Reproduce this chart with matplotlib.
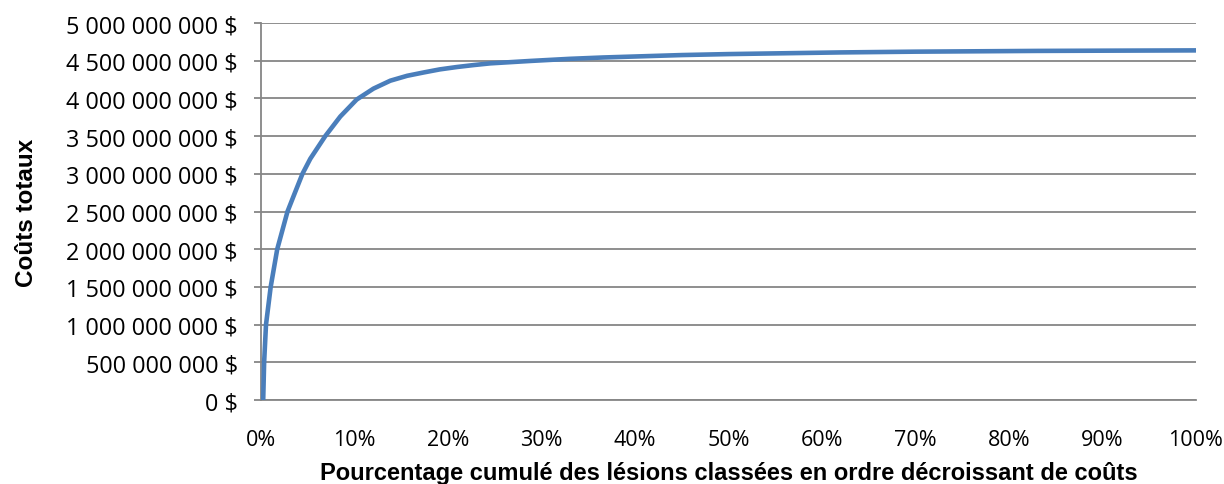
import matplotlib
matplotlib.use("Agg")
from matplotlib import pyplot as plt
from matplotlib.ticker import FuncFormatter, MultipleLocator

# cumulative share of injuries (%) and cumulative total cost ($)
pct_injuries = [0.2, 0.3, 0.5, 1.0, 1.7, 2.8, 3.5, 4.4, 5.24, 6.84, 8.45, 10.2,
                12.0, 13.8, 15.6, 17.4, 19.1, 20.9, 22.7, 24.5, 28.8, 33,
                36.6, 45, 50, 62, 70, 83, 90, 100]
total_costs = [0, 0.5e9, 1.0e9, 1.5e9, 2.0e9, 2.5e9, 2.72e9, 3.0e9, 3.2e9,
               3.5e9, 3.76e9, 3.985e9, 4.13e9, 4.235e9, 4.30e9, 4.345e9,
               4.385e9, 4.416e9, 4.442e9, 4.465e9, 4.497e9, 4.525e9,
               4.543e9, 4.575e9, 4.588e9, 4.61e9, 4.62e9, 4.63e9, 4.633e9,
               4.637e9]

x_label = "Pourcentage cumulé des lésions classées en ordre décroissant de coûts"
y_label = "Coûts totaux"

grid_grey = "#868686"
line_blue = "#4a7ebb"


def dollars(v, _pos):
    return "{:,.0f} $".format(v).replace(",", " ")


fig = plt.figure(figsize=(12.24, 4.85), dpi=100)
ax = fig.add_axes([0.2135, 0.173, 0.7635, 0.7775])

ax.plot(pct_injuries, total_costs, color=line_blue, lw=3.3,
        solid_capstyle="round", solid_joinstyle="round", zorder=3)

ax.set_xlim(0, 100)
ax.set_ylim(0, 5e9)
ax.xaxis.set_major_locator(MultipleLocator(10))
ax.yaxis.set_major_locator(MultipleLocator(5e8))
ax.xaxis.set_major_formatter(FuncFormatter(lambda v, p: f"{v:.0f}%"))
ax.yaxis.set_major_formatter(FuncFormatter(dollars))

ax.grid(axis="y", color=grid_grey, lw=1.3)
ax.set_axisbelow(True)
for side in ("top", "right"):
    ax.spines[side].set_visible(False)
for side in ("left", "bottom"):
    ax.spines[side].set_color(grid_grey)
    ax.spines[side].set_linewidth(1.3)

ax.tick_params(axis="y", length=5, width=1.3, color=grid_grey, pad=12,
               labelsize=16.8)
ax.tick_params(axis="x", length=0, pad=21, labelsize=15.5)
for lab in ax.get_xticklabels() + ax.get_yticklabels():
    lab.set_family("Open Sans")

ax.set_xlabel(x_label, fontsize=17, fontweight="bold",
              family="Liberation Sans")
ax.set_ylabel(y_label, fontsize=17.5, fontweight="bold",
              family="Liberation Sans")
ax.xaxis.set_label_coords(0.5, -0.162)
ax.yaxis.set_label_coords(-0.239, 0.5)

fig.savefig("out.png", dpi=100)
